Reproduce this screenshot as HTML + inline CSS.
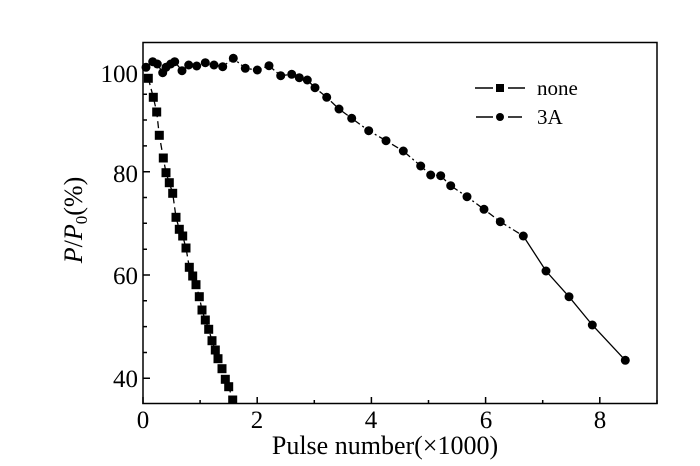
<!DOCTYPE html>
<html><head><meta charset="utf-8"><style>
html,body{margin:0;padding:0;background:#fff;}
svg{display:block;font-family:"Liberation Serif",serif;}
</style></head><body>
<svg width="700" height="466" viewBox="0 0 700 466" xmlns="http://www.w3.org/2000/svg">
<rect width="700" height="466" fill="#fff"/>
<g stroke="#000" stroke-width="1.5" fill="none">
<rect x="143" y="42.5" width="514" height="361"/>
<path d="M143 404v-7M257.2 404v-7M371.4 404v-7M485.6 404v-7M599.8 404v-7M200.1 404v-4M314.3 404v-4M428.5 404v-4M542.7 404v-4M657 404v-4"/>
<path d="M143 378.3h7M143 275h7M143 171.7h7M143 68.4h7M143 352.5h4M143 326.6h4M143 300.8h4M143 249.2h4M143 223.3h4M143 197.5h4M143 145.9h4M143 120h4M143 94.2h4"/>
</g>
<g font-size="25" text-anchor="middle">
<text x="143" y="428">0</text><text x="257" y="428">2</text><text x="371" y="428">4</text><text x="486" y="428">6</text><text x="600" y="428">8</text>
</g>
<g font-size="25" text-anchor="end">
<text x="138" y="387">40</text><text x="138" y="284">60</text><text x="138" y="182">80</text><text x="138" y="82">100</text>
</g>
<text x="385" y="454" font-size="26" text-anchor="middle">Pulse number(×1000)</text>
<text transform="translate(82,220) rotate(-90)" font-size="26" text-anchor="middle"><tspan font-style="italic">P</tspan>/<tspan font-style="italic">P</tspan><tspan font-size="17" dy="5">0</tspan><tspan dy="-5">(%)</tspan></text>

<polyline fill="none" stroke="#000" stroke-width="1.3" stroke-dasharray="7,4" points="148.3,78.3 153.3,97.3 156.7,112 159.3,135.3 163.3,158 166,172.7 169.3,182.7 172.7,193.3 176,217.3 179.3,229.3 182.7,236 186,248 189.3,267.3 192.7,276 196,284.7 199.3,296.7 202,310 205.3,320 208.7,329.3 212,340.7 215.3,350 218,358.7 222,368.7 225.3,379.3 228.7,386.7 232.7,400"/>
<g fill="#000">
<rect x="143.8" y="73.8" width="9" height="9"/><rect x="148.8" y="92.8" width="9" height="9"/><rect x="152.2" y="107.5" width="9" height="9"/><rect x="154.8" y="130.8" width="9" height="9"/><rect x="158.8" y="153.5" width="9" height="9"/><rect x="161.5" y="168.2" width="9" height="9"/><rect x="164.8" y="178.2" width="9" height="9"/><rect x="168.2" y="188.8" width="9" height="9"/><rect x="171.5" y="212.8" width="9" height="9"/><rect x="174.8" y="224.8" width="9" height="9"/><rect x="178.2" y="231.5" width="9" height="9"/><rect x="181.5" y="243.5" width="9" height="9"/><rect x="184.8" y="262.8" width="9" height="9"/><rect x="188.2" y="271.5" width="9" height="9"/><rect x="191.5" y="280.2" width="9" height="9"/><rect x="194.8" y="292.2" width="9" height="9"/><rect x="197.5" y="305.5" width="9" height="9"/><rect x="200.8" y="315.5" width="9" height="9"/><rect x="204.2" y="324.8" width="9" height="9"/><rect x="207.5" y="336.2" width="9" height="9"/><rect x="210.8" y="345.5" width="9" height="9"/><rect x="213.5" y="354.2" width="9" height="9"/><rect x="217.5" y="364.2" width="9" height="9"/><rect x="220.8" y="374.8" width="9" height="9"/><rect x="224.2" y="382.2" width="9" height="9"/><rect x="228.2" y="395.5" width="9" height="8.5"/>
</g>

<polyline fill="none" stroke="#000" stroke-width="1.3" stroke-dasharray="7,3,2,3" points="146,67.3 152.7,61.7 157.3,64 162.7,72.7 166,67.3 170.7,64 174.7,61.7 182,70.7 188.7,65 196.7,66 205.3,62.7 214,65 222.7,66.7 233.3,58.3 245.3,68.3 257.3,70 269,65.7 280.7,75.7 291.7,74.3 299.3,77.7 307.3,80 315,87.7 326.7,97.3 339,109 351.7,118.3 368.7,130.7 386,140.7 403.3,151 420.7,166 430.7,175 440.7,175.7 450.7,185.7 467,196.7 484,209.3 500.3,221.7 523.3,236"/>
<polyline fill="none" stroke="#000" stroke-width="1.3" points="523.3,236 546,271 569,296.7 592.3,325 625.3,360.3"/>
<g fill="#000">
<circle cx="146" cy="67.3" r="4.5"/><circle cx="152.7" cy="61.7" r="4.5"/><circle cx="157.3" cy="64" r="4.5"/><circle cx="162.7" cy="72.7" r="4.5"/><circle cx="166" cy="67.3" r="4.5"/><circle cx="170.7" cy="64" r="4.5"/><circle cx="174.7" cy="61.7" r="4.5"/><circle cx="182" cy="70.7" r="4.5"/><circle cx="188.7" cy="65" r="4.5"/><circle cx="196.7" cy="66" r="4.5"/><circle cx="205.3" cy="62.7" r="4.5"/><circle cx="214" cy="65" r="4.5"/><circle cx="222.7" cy="66.7" r="4.5"/><circle cx="233.3" cy="58.3" r="4.5"/><circle cx="245.3" cy="68.3" r="4.5"/><circle cx="257.3" cy="70" r="4.5"/><circle cx="269" cy="65.7" r="4.5"/><circle cx="280.7" cy="75.7" r="4.5"/><circle cx="291.7" cy="74.3" r="4.5"/><circle cx="299.3" cy="77.7" r="4.5"/><circle cx="307.3" cy="80" r="4.5"/><circle cx="315" cy="87.7" r="4.5"/><circle cx="326.7" cy="97.3" r="4.5"/><circle cx="339" cy="109" r="4.5"/><circle cx="351.7" cy="118.3" r="4.5"/><circle cx="368.7" cy="130.7" r="4.5"/><circle cx="386" cy="140.7" r="4.5"/><circle cx="403.3" cy="151" r="4.5"/><circle cx="420.7" cy="166" r="4.5"/><circle cx="430.7" cy="175" r="4.5"/><circle cx="440.7" cy="175.7" r="4.5"/><circle cx="450.7" cy="185.7" r="4.5"/><circle cx="467" cy="196.7" r="4.5"/><circle cx="484" cy="209.3" r="4.5"/><circle cx="500.3" cy="221.7" r="4.5"/><circle cx="523.3" cy="236" r="4.5"/><circle cx="546" cy="271" r="4.5"/><circle cx="569" cy="296.7" r="4.5"/><circle cx="592.3" cy="325" r="4.5"/><circle cx="625.3" cy="360.3" r="4.5"/>
</g>

<g stroke="#000" stroke-width="1.5">
<path d="M475 88h18M508 88h17M476 117h17M508 117h14"/>
</g>
<rect x="496" y="84" width="8" height="8" fill="#000"/>
<circle cx="500" cy="117" r="4" fill="#000"/>
<text x="537" y="95" font-size="21">none</text>
<text x="537" y="124" font-size="21">3A</text>
</svg>
</body></html>
